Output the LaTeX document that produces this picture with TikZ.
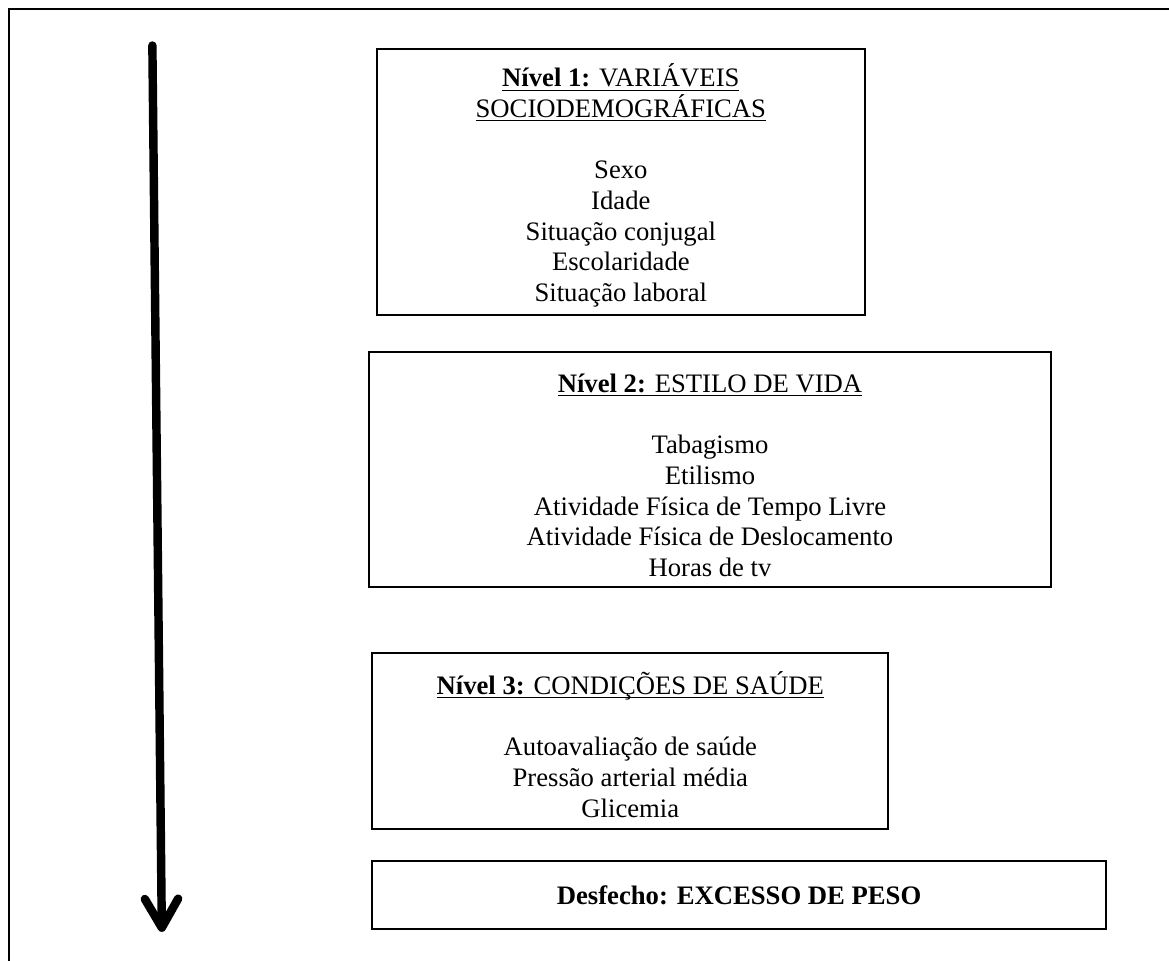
\documentclass[tikz,border=0pt]{standalone}
\usepackage{fontspec}
\setmainfont{Liberation Serif}
\usetikzlibrary{arrows.meta}

\newcommand{\titulonivel}[2]{\rule{0pt}{13.5pt}\underline{\smash{\textbf{#1} #2}}}

\begin{document}
\begin{tikzpicture}[
    % Caixas dos niveis
    nivel/.style={rectangle, draw=black, line width=0.9pt, align=center, inner sep=2pt, font=\fontsize{12pt}{13.8pt}\selectfont},
    % Seta da hierarquia
    seta/.style={line width=3.8pt, line cap=round, -{Straight Barb[length=13pt, width=15pt, line cap=round, line join=round]}}
]

% Margens e moldura
\useasboundingbox (0, 0) rectangle (18.49, 15.19);
\clip (0, 0) rectangle (18.49, 15.19);
\draw[line width=0.9pt] (0.14, -1) rectangle (19.5, 15.04);

% Niveis
\node[nivel, minimum width=7.72cm, minimum height=4.21cm] (nivelum) at (9.82, 12.31)
    {\titulonivel{Nível 1:}{VARIÁVEIS}\\ \underline{SOCIODEMOGRÁFICAS}\\[13.8pt]
     Sexo\\ Idade\\ Situação conjugal\\ Escolaridade\\ Situação laboral};
\node[nivel, minimum width=10.79cm, minimum height=3.72cm] (niveldois) at (11.23, 7.76)
    {\titulonivel{Nível 2:}{ESTILO DE VIDA}\\[13.8pt]
     Tabagismo\\ Etilismo\\ Atividade Física de Tempo Livre\\ Atividade Física de Deslocamento\\ Horas de tv};
\node[nivel, minimum width=8.16cm, minimum height=2.77cm] (niveltres) at (9.97, 3.47)
    {\titulonivel{Nível 3:}{CONDIÇÕES DE SAÚDE}\\[13.8pt]
     Autoavaliação de saúde\\ Pressão arterial média\\ Glicemia};
\node[nivel, minimum width=11.61cm, minimum height=1.08cm] (desfecho) at (11.69, 1.03)
    {\textbf{Desfecho: EXCESSO DE PESO}};

% Seta
\coordinate (inicio) at (2.41, 14.47);
\coordinate (fim) at (2.56, 0.45);
\draw[seta] (inicio) -- (fim);
\end{tikzpicture}
\end{document}
